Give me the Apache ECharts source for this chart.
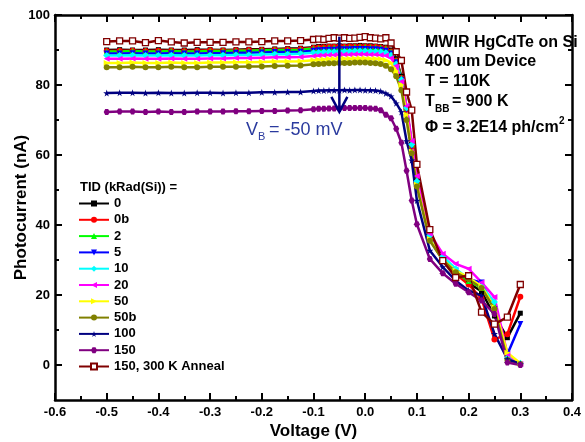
<!DOCTYPE html>
<html>
<head>
<meta charset="utf-8">
<script src="https://cdn.jsdelivr.net/npm/echarts@6/dist/echarts.min.js"></script>
<style>
  html, body { margin: 0; padding: 0; background: #fff; }
  #chart { width: 585px; height: 442px; }
</style>
</head>
<body>
<div id="chart"></div>
<script>
// bias voltage (V): coarse steps, dense near 0, coarse again past the knee
const voltage = [-0.5, -0.475, -0.45, -0.425, -0.4, -0.375, -0.35, -0.325, -0.3, -0.275, -0.25, -0.225, -0.2, -0.175, -0.15, -0.125,
  -0.1, -0.09, -0.08, -0.07, -0.06, -0.05, -0.04, -0.03, -0.02, -0.01, 0, 0.01, 0.02, 0.03, 0.04, 0.05, 0.06, 0.07, 0.08, 0.09,
  0.1, 0.125, 0.15, 0.175, 0.2, 0.225, 0.25, 0.275, 0.3];

// photocurrent (nA) for each TID step
const tid0 = [90.0, 90.1, 90.0, 90.0, 90.1, 90.0, 90.0, 90.1, 90.1, 90.0, 90.1, 90.2, 90.2, 90.3, 90.4, 90.5,
  90.8, 91.0, 91.0, 91.1, 91.1, 91.2, 91.1, 91.2, 91.2, 91.3, 91.2, 91.2, 91.1, 91.0, 90.8, 90.0, 87.5, 82.5, 73.5, 63.0,
  52.5, 36.5, 30.0, 26.5, 23.5, 21.0, 14.0, 7.8, 14.8];
const tid0b = [89.7, 89.8, 89.8, 89.7, 89.8, 89.8, 89.7, 89.8, 89.9, 89.8, 89.9, 90.0, 90.0, 90.1, 90.2, 90.3,
  90.6, 90.7, 90.8, 90.9, 90.9, 91.0, 90.9, 91.0, 91.0, 91.0, 91.0, 90.9, 90.9, 90.8, 90.5, 89.6, 87.0, 82.0, 73.0, 62.5,
  52.0, 36.0, 30.0, 26.0, 23.0, 19.0, 7.3, 8.8, 19.5];
const tid2 = [89.6, 89.6, 89.7, 89.6, 89.6, 89.7, 89.6, 89.6, 89.7, 89.7, 89.8, 89.8, 89.9, 90.0, 90.0, 90.1,
  90.4, 90.5, 90.6, 90.7, 90.7, 90.8, 90.8, 90.8, 90.9, 90.9, 90.9, 90.8, 90.8, 90.7, 90.4, 89.5, 87.0, 82.0, 73.5, 63.0,
  52.5, 36.5, 30.5, 26.5, 24.0, 22.0, 17.0, 1.5, 0.5];
const tid5 = [89.0, 89.0, 89.1, 89.0, 89.0, 89.1, 89.0, 89.0, 89.1, 89.1, 89.2, 89.2, 89.3, 89.4, 89.4, 89.5,
  89.8, 89.9, 90.0, 90.1, 90.1, 90.2, 90.2, 90.2, 90.3, 90.3, 90.3, 90.2, 90.2, 90.1, 89.8, 89.0, 86.5, 81.5, 73.0, 62.5,
  52.0, 36.5, 30.5, 27.0, 24.5, 23.6, 16.0, 3.1, 11.7];
const tid10 = [88.4, 88.4, 88.5, 88.4, 88.4, 88.5, 88.4, 88.4, 88.5, 88.5, 88.6, 88.6, 88.7, 88.8, 88.8, 88.9,
  89.2, 89.3, 89.4, 89.5, 89.5, 89.6, 89.6, 89.6, 89.7, 89.7, 89.7, 89.6, 89.6, 89.5, 89.2, 88.5, 86.0, 81.5, 73.5, 63.0,
  52.5, 37.0, 31.0, 27.5, 24.5, 22.5, 18.0, 2.0, 0.5];
const tid20 = [87.5, 87.5, 87.6, 87.5, 87.5, 87.6, 87.5, 87.5, 87.6, 87.6, 87.7, 87.7, 87.8, 87.9, 87.9, 88.0,
  88.3, 88.4, 88.5, 88.6, 88.6, 88.7, 88.7, 88.7, 88.8, 88.8, 88.8, 88.7, 88.7, 88.6, 88.4, 87.7, 85.5, 81.0, 74.0, 64.0,
  54.0, 37.5, 31.8, 28.9, 27.5, 23.6, 19.4, 3.1, 0.3];
const tid50 = [86.3, 86.3, 86.4, 86.3, 86.3, 86.4, 86.3, 86.3, 86.4, 86.4, 86.5, 86.5, 86.6, 86.7, 86.7, 86.8,
  87.1, 87.2, 87.3, 87.4, 87.4, 87.5, 87.5, 87.5, 87.6, 87.6, 87.6, 87.5, 87.5, 87.4, 87.1, 86.3, 84.0, 80.0, 71.5, 61.0,
  51.5, 36.0, 30.0, 27.0, 25.0, 22.5, 16.5, 3.5, 0.5];
const tid50b = [85.1, 85.1, 85.2, 85.1, 85.1, 85.2, 85.1, 85.1, 85.2, 85.2, 85.2, 85.3, 85.3, 85.4, 85.5, 85.6,
  85.9, 86.0, 86.1, 86.2, 86.2, 86.3, 86.3, 86.3, 86.4, 86.4, 86.4, 86.3, 86.2, 86.0, 85.5, 84.5, 82.5, 78.5, 70.0, 60.5,
  51.0, 35.5, 30.0, 26.5, 24.5, 22.0, 16.0, 1.5, 0.3];
const tid100 = [77.7, 77.8, 77.8, 77.7, 77.8, 77.7, 77.7, 77.8, 77.8, 77.7, 77.8, 77.8, 77.9, 77.9, 78.0, 78.0,
  78.3, 78.4, 78.4, 78.5, 78.5, 78.5, 78.6, 78.5, 78.6, 78.6, 78.5, 78.5, 78.4, 78.2, 77.6, 76.8, 74.8, 72.3, 64.0, 58.5,
  47.0, 32.7, 28.0, 24.1, 21.3, 19.8, 8.9, 1.7, 0.3];
const tid150 = [72.3, 72.4, 72.4, 72.3, 72.4, 72.3, 72.3, 72.4, 72.4, 72.4, 72.5, 72.5, 72.6, 72.6, 72.7, 72.8,
  73.1, 73.2, 73.2, 73.3, 73.3, 73.3, 73.4, 73.4, 73.4, 73.4, 73.4, 73.3, 73.2, 72.8, 71.5, 70.5, 67.5, 63.5, 55.5, 47.0,
  40.2, 30.3, 26.2, 23.2, 20.8, 18.4, 14.6, 0.7, 0.0];
const tid150anneal = [92.4, 92.6, 92.6, 92.1, 92.7, 92.3, 92.0, 92.2, 92.2, 92.2, 92.3, 92.3, 92.4, 92.6, 92.6, 92.7,
  93.0, 93.1, 93.0, 93.3, 93.5, 93.4, 93.5, 93.3, 93.4, 93.6, 93.8, 93.5, 93.4, 93.2, 93.5, 92.0, 89.5, 87.0, 78.0, 72.8,
  57.3, 38.7, 29.8, 25.0, 25.5, 15.1, 11.7, 13.7, 23.0];

const seriesNames = ['0', '0b', '2', '5', '10', '20', '50', '50b', '100', '150', '150, 300 K Anneal'];
const seriesValues = [tid0, tid0b, tid2, tid5, tid10, tid20, tid50, tid50b, tid100, tid150, tid150anneal];

const yLabelTicks = [0, 20, 40, 60, 80, 100];
const yMinorTicks = [10, 30, 50, 70, 90];

// V_B = -50 mV marker
const arrowV = -0.05;
const arrowTop = 93.8;
const arrowTip = 72.3;

const FONT = '"Liberation Sans", Arial, sans-serif';
const star = 'path://M50,0 L61,35 L98,35 L68,57 L79,91 L50,70 L21,91 L32,57 L2,35 L39,35 Z';
const hexagon = 'path://M25,0 L75,0 L100,50 L75,100 L25,100 L0,50 Z';

const looks = [
  { color: '#000000', symbol: 'rect', size: 5 },
  { color: '#ff0000', symbol: 'circle', size: 6 },
  { color: '#00ff00', symbol: 'triangle', size: 6 },
  { color: '#0000ff', symbol: 'triangle', size: 6, rotate: 180 },
  { color: '#00ffff', symbol: 'diamond', size: 7 },
  { color: '#ff00ff', symbol: 'triangle', size: 6, rotate: 90 },
  { color: '#ffff00', symbol: 'triangle', size: 6, rotate: -90 },
  { color: '#808000', symbol: 'circle', size: 6 },
  { color: '#000080', symbol: star, size: 7 },
  { color: '#800080', symbol: hexagon, size: 6 },
  { color: '#800000', symbol: 'rect', size: 6, hollow: true }
];

const lineSeries = seriesNames.map((name, i) => {
  const lk = looks[i];
  return {
    name: name,
    type: 'line',
    data: voltage.map((v, j) => [v, seriesValues[i][j]]),
    symbol: lk.symbol,
    symbolSize: lk.size,
    symbolRotate: lk.rotate || 0,
    showAllSymbol: true,
    lineStyle: { color: lk.color, width: 2.5 },
    itemStyle: lk.hollow
      ? { color: '#ffffff', borderColor: lk.color, borderWidth: 1.3 }
      : { color: lk.color },
    emphasis: { disabled: true },
    animation: false
  };
});

const arrowSeries = {
  type: 'custom',
  data: [[arrowV, arrowTop]],
  z: 10,
  silent: true,
  animation: false,
  renderItem: function (params, api) {
    const top = api.coord([arrowV, arrowTop]);
    const tip = api.coord([arrowV, arrowTip]);
    const s = { stroke: '#000080', lineWidth: 2.5, fill: null };
    return {
      type: 'group',
      children: [
        { type: 'line', shape: { x1: top[0], y1: top[1], x2: tip[0], y2: tip[1] }, style: s },
        { type: 'polyline', shape: { points: [[tip[0] - 8, tip[1] - 15], [tip[0], tip[1]], [tip[0] + 8, tip[1] - 15]] }, style: s }
      ]
    };
  }
};

const boxLine = { show: true, onZero: false, lineStyle: { color: '#000', width: 2.5 } };
const noLine = { show: false, onZero: false };
const tickStyle = { color: '#000', width: 2 };

const option = {
  backgroundColor: '#fff',
  animation: false,
  grid: { left: 55, right: 13, top: 15, bottom: 42, containLabel: false, outerBoundsMode: 'none' },
  legend: {
    data: seriesNames,
    orient: 'vertical',
    left: 78,
    top: 197,
    padding: 0,
    itemWidth: 30,
    itemHeight: 7.5,
    itemGap: 3.3,
    selectedMode: false,
    textStyle: { fontFamily: FONT, fontWeight: 'bold', fontSize: 13, color: '#000' }
  },
  xAxis: [
    {
      type: 'value', min: -0.6, max: 0.4, interval: 0.1,
      name: 'Voltage (V)', nameLocation: 'middle', nameGap: 23, nameMoveOverlap: false,
      nameTextStyle: { fontFamily: FONT, fontWeight: 'bold', fontSize: 17, color: '#000' },
      axisLine: boxLine,
      axisTick: { inside: true, length: 7, lineStyle: tickStyle },
      minorTick: { show: true, splitNumber: 2, length: 4, lineStyle: tickStyle },
      axisLabel: {
        margin: 6, fontFamily: FONT, fontWeight: 'bold', fontSize: 13, color: '#000',
        formatter: v => (Math.abs(v) < 1e-9 ? 0 : v).toFixed(1)
      },
      splitLine: { show: false }
    },
    {
      type: 'value', min: -0.6, max: 0.4, interval: 0.1, position: 'top',
      axisLine: boxLine,
      axisTick: { inside: true, length: 7, lineStyle: tickStyle },
      minorTick: { show: true, splitNumber: 2, length: 4, lineStyle: tickStyle },
      axisLabel: { show: false },
      splitLine: { show: false }
    }
  ],
  yAxis: [
    {
      type: 'value', min: -10, max: 100, interval: 10,
      name: 'Photocurrent (nA)', nameLocation: 'middle', nameGap: 25, nameMoveOverlap: false,
      nameTextStyle: { fontFamily: FONT, fontWeight: 'bold', fontSize: 17, color: '#000' },
      axisLine: boxLine,
      axisTick: { inside: true, length: 7, customValues: yLabelTicks, lineStyle: tickStyle },
      axisLabel: {
        margin: 5, fontFamily: FONT, fontWeight: 'bold', fontSize: 13, color: '#000',
        customValues: yLabelTicks
      },
      splitLine: { show: false }
    },
    {
      type: 'value', min: -10, max: 100, interval: 10, position: 'left',
      axisLine: noLine,
      axisTick: { inside: true, length: 4, customValues: yMinorTicks, lineStyle: tickStyle },
      axisLabel: { show: false },
      splitLine: { show: false }
    },
    {
      type: 'value', min: -10, max: 100, interval: 10, position: 'right',
      axisLine: boxLine,
      axisTick: { inside: true, length: 7, customValues: yLabelTicks, lineStyle: tickStyle },
      axisLabel: { show: false },
      splitLine: { show: false }
    },
    {
      type: 'value', min: -10, max: 100, interval: 10, position: 'right',
      axisLine: noLine,
      axisTick: { inside: true, length: 4, customValues: yMinorTicks, lineStyle: tickStyle },
      axisLabel: { show: false },
      splitLine: { show: false }
    }
  ],
  graphic: [
    { type: 'text', x: 80, y: 187, style: { text: 'TID (kRad(Si)) =', font: 'bold 13px ' + FONT, fill: '#000', verticalAlign: 'middle' } },
    { type: 'text', x: 425, y: 43, style: { text: 'MWIR HgCdTe on Si', font: 'bold 16px ' + FONT, fill: '#000', verticalAlign: 'middle' } },
    { type: 'text', x: 425, y: 62, style: { text: '400 um Device', font: 'bold 16px ' + FONT, fill: '#000', verticalAlign: 'middle' } },
    { type: 'text', x: 425, y: 82, style: { text: 'T = 110K', font: 'bold 16px ' + FONT, fill: '#000', verticalAlign: 'middle' } },
    { type: 'text', x: 425, y: 102, style: { text: 'T', font: 'bold 16px ' + FONT, fill: '#000', verticalAlign: 'middle' } },
    { type: 'text', x: 435, y: 109, style: { text: 'BB', font: 'bold 10px ' + FONT, fill: '#000', verticalAlign: 'middle' } },
    { type: 'text', x: 452, y: 102, style: { text: '= 900 K', font: 'bold 16px ' + FONT, fill: '#000', verticalAlign: 'middle' } },
    { type: 'text', x: 425, y: 128, style: { text: 'Φ = 3.2E14 ph/cm', font: 'bold 16px ' + FONT, fill: '#000', verticalAlign: 'middle' } },
    { type: 'text', x: 559, y: 121, style: { text: '2', font: 'bold 10px ' + FONT, fill: '#000', verticalAlign: 'middle' } },
    { type: 'text', x: 246, y: 130, style: { text: 'V', font: '18px ' + FONT, fill: '#2a3a9e', verticalAlign: 'middle' } },
    { type: 'text', x: 258, y: 137, style: { text: 'B', font: '11px ' + FONT, fill: '#2a3a9e', verticalAlign: 'middle' } },
    { type: 'text', x: 269, y: 130, style: { text: '= -50 mV', font: '18px ' + FONT, fill: '#2a3a9e', verticalAlign: 'middle' } }
  ],
  series: lineSeries.concat([arrowSeries])
};

const chart = echarts.init(document.getElementById('chart'), null, { renderer: 'canvas' });
chart.setOption(option);
</script>
</body>
</html>
